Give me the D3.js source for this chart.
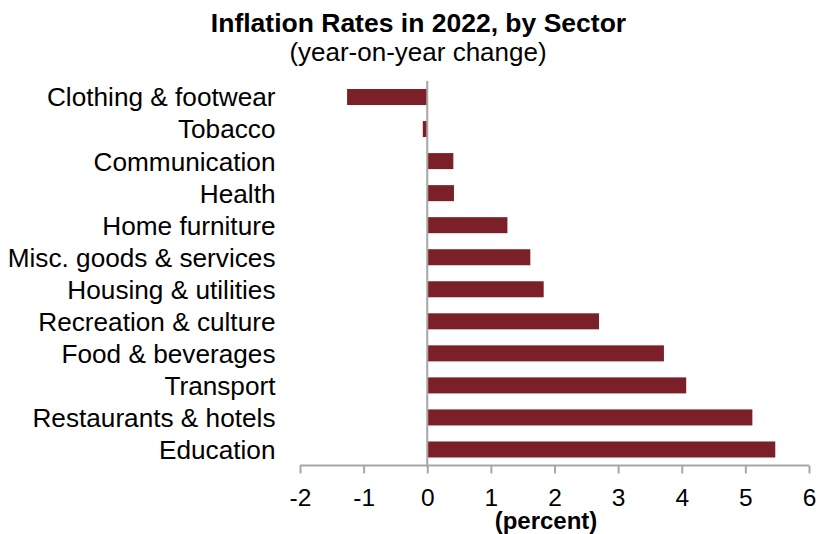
<!DOCTYPE html>
<html>
<head>
<meta charset="utf-8">
<script src="https://cdn.jsdelivr.net/npm/d3@7"></script>
<style>
  html, body { margin: 0; padding: 0; background: #fff; }
  svg { display: block; font-family: "Liberation Sans", Arial, sans-serif; }
</style>
</head>
<body>
<svg id="chart" width="824" height="534"></svg>
<script>
// Sector names, top to bottom
const sectors = [
  "Clothing & footwear",
  "Tobacco",
  "Communication",
  "Health",
  "Home furniture",
  "Misc. goods & services",
  "Housing & utilities",
  "Recreation & culture",
  "Food & beverages",
  "Transport",
  "Restaurants & hotels",
  "Education"
];
// Year-on-year change, percent
const rates = [-1.26, -0.07, 0.41, 0.42, 1.26, 1.62, 1.83, 2.70, 3.72, 4.07, 5.11, 5.47];
const xTicks = [-2, -1, 0, 1, 2, 3, 4, 5, 6];

const titleText = "Inflation Rates in 2022, by Sector";
const subtitleText = "(year-on-year change)";
const axisTitle = "(percent)";

const svg = d3.select("#chart");
const plot = { left: 300, right: 809, top: 81, bottom: 465.5 };
const barColor = "#7B2029";
const axisColor = "#A6A6A6";

const x = d3.scaleLinear().domain([-2, 6]).range([plot.left, plot.right]);
const y = d3.scaleBand().domain(sectors).range([plot.top, plot.bottom]).paddingInner(0.5).paddingOuter(0.25);

// Title
svg.append("text").attr("x", 418.5).attr("y", 32).attr("text-anchor", "middle")
  .attr("font-size", 26.5).attr("font-weight", "bold").attr("fill", "#000").text(titleText);
svg.append("text").attr("x", 418).attr("y", 61).attr("text-anchor", "middle")
  .attr("font-size", 26).attr("fill", "#000").text(subtitleText);

// Bars
svg.append("g").selectAll("rect").data(sectors).join("rect")
  .attr("x", (d, i) => x(Math.min(0, rates[i])))
  .attr("y", d => y(d))
  .attr("width", (d, i) => Math.abs(x(rates[i]) - x(0)))
  .attr("height", y.bandwidth())
  .attr("fill", barColor);

// Category labels
svg.append("g").selectAll("text").data(sectors).join("text")
  .attr("x", 275.5)
  .attr("y", d => y(d) + y.bandwidth() / 2)
  .attr("dy", "0.36em")
  .attr("text-anchor", "end")
  .attr("font-size", 26.2)
  .attr("fill", "#000")
  .text(d => d);

// X axis
const xAxis = d3.axisBottom(x).tickValues(xTicks).tickSize(8).tickFormat(d3.format("d"));
const gx = svg.append("g").attr("transform", `translate(0,${plot.bottom})`).call(xAxis);
gx.select(".domain").attr("stroke", axisColor).attr("stroke-width", 2).attr("d", `M${plot.left},0H${plot.right}`);
gx.selectAll(".tick line").attr("stroke", axisColor).attr("stroke-width", 2);
gx.selectAll(".tick text").attr("font-size", 24.5).attr("fill", "#000").attr("y", 40.5).attr("dy", 0)
  .attr("font-family", "'Liberation Sans', Arial, sans-serif")
  .text(d => d < 0 ? "-" + Math.abs(d) : d);

// Zero line
svg.append("line")
  .attr("x1", x(0)).attr("x2", x(0))
  .attr("y1", plot.top).attr("y2", plot.bottom)
  .attr("stroke", axisColor).attr("stroke-width", 2);

// Axis title
svg.append("text").attr("x", 546).attr("y", 528.5).attr("text-anchor", "middle")
  .attr("font-size", 24).attr("font-weight", "bold").attr("fill", "#000").text(axisTitle);
</script>
</body>
</html>
